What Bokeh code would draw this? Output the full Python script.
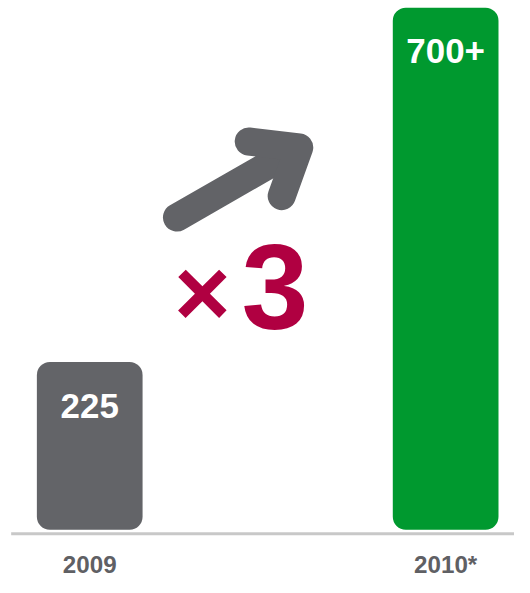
from bokeh.plotting import figure
from bokeh.models import Range1d, ColumnDataSource
from bokeh.core.properties import value
from bokeh.embed import file_html
from bokeh.resources import INLINE

# ---- data ----
years = ["2009", "2010*"]
counts = [225, 700]
value_labels = ["225", "700+"]
bar_colors = ["#636468", "#00992f"]
multiplier_label = "×3"

# ---- layout: design space is a 530x593 canvas, drawn into a figure that fits the window ----
REF_W, REF_H = 530, 593
W, H = 514, 577
S = min(W / REF_W, H / REF_H)     # pixel scale for fonts / widths

PX_PER_CAT = 367.0        # design px between bar centres
FIRST_CENTER = 92.0       # design px of first bar centre
ZERO_ROW = 544.0          # design px row of value 0
TOP_ROW = 7.5             # design px row of the tallest bar top
PX_PER_UNIT = (ZERO_ROW - TOP_ROW) / max(counts)

x_start = -FIRST_CENTER / PX_PER_CAT
x_end = (REF_W - FIRST_CENTER) / PX_PER_CAT
y_end = ZERO_ROW / PX_PER_UNIT
y_start = -(REF_H - ZERO_ROW) / PX_PER_UNIT


def dx(px):
    return (px - FIRST_CENTER) / PX_PER_CAT


def dy(py):
    return (ZERO_ROW - py) / PX_PER_UNIT


def fs(px):
    return f"{px * S:.1f}px"


p = figure(width=W, height=H, x_range=Range1d(x_start, x_end),
           y_range=Range1d(y_start, y_end), output_backend="svg",
           toolbar_location=None, x_axis_location=None, y_axis_location=None,
           min_border=0)
p.grid.visible = False
p.outline_line_color = None
p.background_fill_color = "white"
p.border_fill_color = "white"

idx = list(range(len(years)))
src = ColumnDataSource(dict(x=idx, top=counts, color=bar_colors,
                            lab=value_labels, year=years))

p.vbar(x="x", top="top", bottom=0, width=0.297, fill_color="color",
       line_color=None, border_radius=int(round(13 * S)), source=src)

p.segment(x0=[dx(11)], y0=[dy(548)], x1=[dx(530)], y1=[dy(548)],
          line_color="#c8c8c8", line_width=3 * S)

p.text(x="x", y="top", text="lab", source=src, y_offset=45 * S,
       text_align="center", text_baseline="middle",
       text_font=value("Liberation Sans"), text_font_style="bold",
       text_font_size=fs(36), text_color="white")

p.text(x="x", y=0, text="year", source=src, y_offset=36 * S,
       text_align="center", text_baseline="middle",
       text_font=value("Liberation Sans"), text_font_style="bold",
       text_font_size=fs(25), text_color="#5f6064")

# arrow (decoration)
shaft_x = [dx(182), dx(306)]
shaft_y = [dy(223), dy(152)]
head_x = [dx(256), dx(308), dx(290)]
head_y = [dy(145), dy(151), dy(201)]
p.multi_line(xs=[shaft_x, head_x], ys=[shaft_y, head_y], line_color="#626367",
             line_width=29 * S, line_cap="round", line_join="round")

# "×3" multiplier, sign and digit sized separately
sign, digit = multiplier_label[0], multiplier_label[1:]
p.text(x=[dx(208)], y=[dy(300)], text=[sign],
       text_align="center", text_baseline="middle",
       text_font=value("Liberation Sans"), text_font_style="bold",
       text_font_size=fs(100), text_color="#b00041")
p.text(x=[dx(283)], y=[dy(294)], text=[digit],
       text_align="center", text_baseline="middle",
       text_font=value("Liberation Sans"), text_font_style="bold",
       text_font_size=fs(124), text_color="#b00041")

open("out.html", "w").write(file_html(p, INLINE))
